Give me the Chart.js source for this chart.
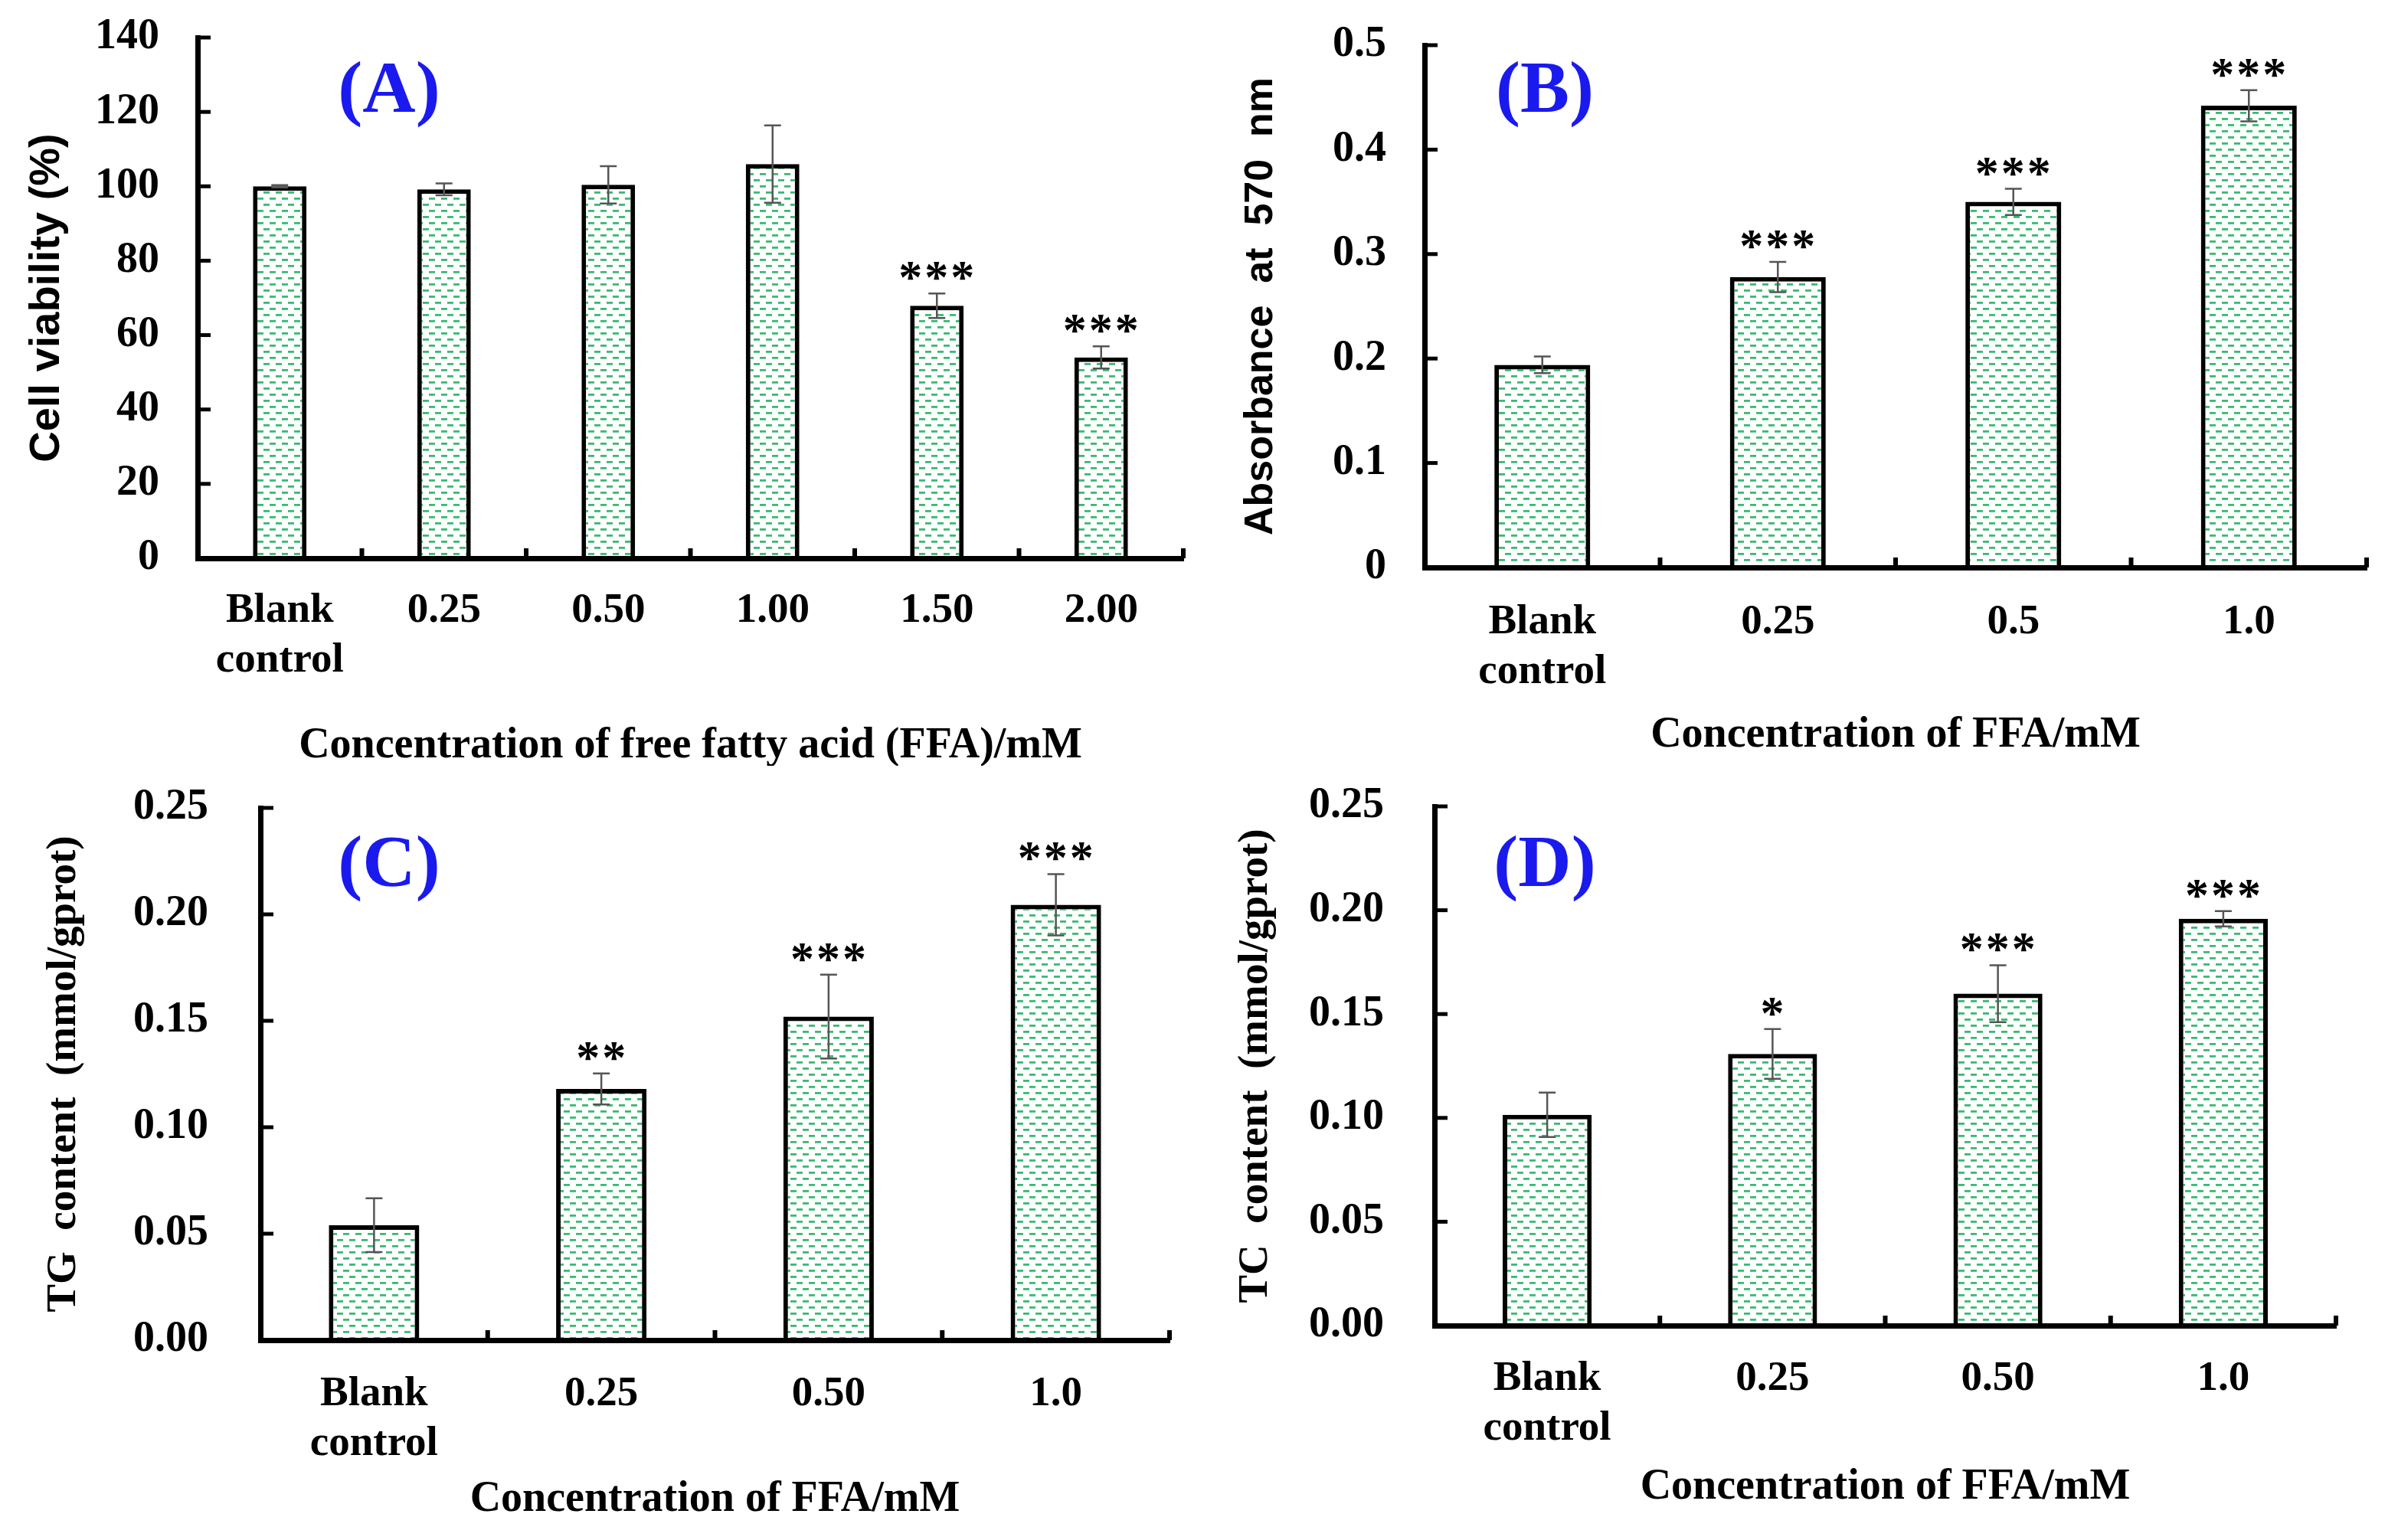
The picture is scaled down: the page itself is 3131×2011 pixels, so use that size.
<!DOCTYPE html>
<html>
<head>
<meta charset="utf-8">
<script src="https://cdn.jsdelivr.net/npm/chart.js@4.4.1/dist/chart.umd.min.js"></script>
<style>
html, body { margin: 0; padding: 0; background: #fff; }
body { width: 3131px; height: 2011px; position: relative; overflow: hidden; }
canvas { position: absolute; }
</style>
</head>
<body>
<canvas id="chartA" width="1565" height="1000" style="left:0;top:0;width:1565px;height:1000px"></canvas>
<canvas id="chartB" width="1566" height="1000" style="left:1565px;top:0;width:1566px;height:1000px"></canvas>
<canvas id="chartC" width="1565" height="1011" style="left:0;top:1000px;width:1565px;height:1011px"></canvas>
<canvas id="chartD" width="1566" height="1011" style="left:1565px;top:1000px;width:1566px;height:1011px"></canvas>
<script>
// (A) cell viability
const labelsA = [["Blank", "control"], "0.25", "0.50", "1.00", "1.50", "2.00"];
const viabilityA = [100, 99.2, 100.4, 106, 67.9, 54];
const viabilityErrA = [0.3, 1.6, 5, 10.4, 3.3, 3];
const starsA = ["", "", "", "", "***", "***"];
const yTicksA = [0, 20, 40, 60, 80, 100, 120, 140];
const yTickLabelsA = ["0", "20", "40", "60", "80", "100", "120", "140"];

// (B) absorbance
const labelsB = [["Blank", "control"], "0.25", "0.5", "1.0"];
const absorbanceB = [0.194, 0.278, 0.350, 0.442];
const absorbanceErrB = [0.008, 0.0145, 0.0125, 0.015];
const starsB = ["", "***", "***", "***"];
const yTicksB = [0, 0.1, 0.2, 0.3, 0.4, 0.5];
const yTickLabelsB = ["0", "0.1", "0.2", "0.3", "0.4", "0.5"];

// (C) TG content
const labelsC = [["Blank", "control"], "0.25", "0.50", "1.0"];
const tgC = [0.054, 0.118, 0.152, 0.2045];
const tgErrC = [0.0126, 0.0073, 0.0197, 0.0144];
const starsC = ["", "**", "***", "***"];

// (D) TC content
const labelsD = [["Blank", "control"], "0.25", "0.50", "1.0"];
const tcD = [0.1015, 0.1308, 0.1598, 0.1959];
const tcErrD = [0.0107, 0.012, 0.0137, 0.0037];
const starsD = ["", "*", "***", "***"];

const yTicksCD = [0, 0.05, 0.10, 0.15, 0.20, 0.25];
const yTickLabelsCD = ["0.00", "0.05", "0.10", "0.15", "0.20", "0.25"];

const SERIF = "'Liberation Serif', 'Times New Roman', serif";
const SANS = "'Liberation Sans', Arial, sans-serif";

// little green dashes on white, like the original hatch
function makePattern() {
    const c = document.createElement("canvas");
    c.width = 16;
    c.height = 16;
    const g = c.getContext("2d");
    g.fillStyle = "#fff";
    g.fillRect(0, 0, 16, 16);
    g.fillStyle = "rgba(35,178,100,0.9)";
    g.fillRect(0, 2, 8, 2.8);
    g.fillRect(8, 10, 8, 2.8);
    return g.createPattern(c, "repeat");
}
const dashFill = makePattern();

const decor = {
    id: "decor",
    afterDatasetsDraw(chart, args, opts) {
        const ctx = chart.ctx;
        const y = chart.scales.y;
        const bars = chart.getDatasetMeta(0).data;
        ctx.save();
        bars.forEach((bar, i) => {
            const v = opts.values[i];
            const e = opts.errors[i];
            const top = y.getPixelForValue(v + e);
            const bot = y.getPixelForValue(v - e);
            ctx.strokeStyle = "#555";
            ctx.lineWidth = 2.5;
            ctx.beginPath();
            ctx.moveTo(bar.x, top); ctx.lineTo(bar.x, bot);
            ctx.moveTo(bar.x - 11, top); ctx.lineTo(bar.x + 11, top);
            ctx.moveTo(bar.x - 11, bot); ctx.lineTo(bar.x + 11, bot);
            ctx.stroke();
            if (opts.stars[i]) {
                ctx.fillStyle = "#000";
                ctx.font = "bold 62px " + SERIF;
                ctx.letterSpacing = "3px";
                ctx.textAlign = "center";
                ctx.textBaseline = "alphabetic";
                ctx.fillText(opts.stars[i], bar.x + 1, top - 1);
            }
        });
        ctx.restore();
    },
    afterDraw(chart, args, opts) {
        const ctx = chart.ctx;
        const { left, right, bottom } = chart.chartArea;
        const x = chart.scales.x;
        const y = chart.scales.y;
        ctx.save();
        ctx.fillStyle = "#000";
        // inward ticks on the value axis
        y.ticks.forEach((t, i) => {
            const py = y.getPixelForTick(i);
            ctx.fillRect(left, py - 2.5, 17, 5);
        });
        // inward ticks between categories
        const n = x.ticks.length;
        for (let i = 1; i <= n; i++) {
            const px = i < n ? (x.getPixelForTick(i - 1) + x.getPixelForTick(i)) / 2 : right;
            ctx.fillRect(px - 3, bottom - 13, 6, 13);
        }
        // panel letter
        ctx.fillStyle = "#1a1aee";
        ctx.font = "bold 96px " + SERIF;
        ctx.textAlign = "center";
        ctx.textBaseline = "middle";
        ctx.fillText(opts.letter, opts.letterX, opts.letterY);
        ctx.restore();
    }
};

function makePanel(id, p) {
    return new Chart(document.getElementById(id), {
        type: "bar",
        data: {
            labels: p.labels,
            datasets: [{
                data: p.values,
                backgroundColor: dashFill,
                borderColor: "#000",
                borderWidth: 6,
                borderSkipped: "start",
                categoryPercentage: 1,
                barPercentage: p.barPct
            }]
        },
        options: {
            responsive: false,
            animation: false,
            devicePixelRatio: 1,
            layout: {
                autoPadding: false,
                padding: { left: 0, top: p.top, right: p.right, bottom: 0 }
            },
            plugins: {
                legend: { display: false },
                tooltip: { enabled: false },
                decor: {
                    values: p.values, errors: p.errors, stars: p.stars,
                    letter: p.letter, letterX: p.letterX, letterY: p.letterY
                }
            },
            scales: {
                x: {
                    type: "category",
                    offset: true,
                    grid: { drawOnChartArea: false, drawTicks: false },
                    border: { display: true, color: "#000", width: 7, z: 1 },
                    ticks: {
                        color: "#000",
                        font: { family: SERIF, size: 55, weight: "bold", lineHeight: 1.18 },
                        padding: p.xTickPad,
                        maxRotation: 0,
                        autoSkip: false
                    },
                    title: {
                        display: true,
                        text: p.xTitle,
                        color: "#000",
                        font: { family: SERIF, size: 56, weight: "bold", lineHeight: 0.9 },
                        padding: { top: 0, bottom: p.xTitlePad }
                    },
                    afterFit: s => {
                        s.height = p.xHeight;
                        s.paddingLeft = 0;
                        s.paddingRight = 0;
                    }
                },
                y: {
                    min: p.yTicks[0],
                    max: p.yTicks[p.yTicks.length - 1],
                    afterBuildTicks: s => { s.ticks = p.yTicks.map(v => ({ value: v })); },
                    grid: { drawOnChartArea: false, drawTicks: false },
                    border: { display: true, color: "#000", width: 7, z: 1 },
                    ticks: {
                        color: "#000",
                        font: { family: SERIF, size: 56, weight: "bold" },
                        padding: p.yTickPad,
                        callback: (v, i) => p.yTickLabels[i]
                    },
                    title: {
                        display: true,
                        text: p.yTitle,
                        color: "#000",
                        font: { family: p.yTitleFont, size: p.yTitleSize, weight: "bold", lineHeight: 1 },
                        padding: { top: p.yTitlePad, bottom: 0 }
                    },
                    afterFit: s => {
                        s.width = p.yWidth;
                        s.paddingTop = 0;
                        s.paddingBottom = 0;
                    }
                }
            }
        },
        plugins: [decor]
    });
}

makePanel("chartA", {
    labels: labelsA, values: viabilityA, errors: viabilityErrA, stars: starsA,
    yTicks: yTicksA, yTickLabels: yTickLabelsA,
    yTitle: "Cell viability (%)", yTitleFont: SANS, yTitleSize: 56, yTitlePad: 34,
    xTitle: "Concentration of free fatty acid (FFA)/mM", xTitlePad: 0,
    barPct: 0.326, top: 49, right: 20, yWidth: 258, xHeight: 271,
    yTickPad: 50, xTickPad: 36,
    letter: "(A)", letterX: 508, letterY: 121
});

makePanel("chartB", {
    labels: labelsB, values: absorbanceB, errors: absorbanceErrB, stars: starsB,
    yTicks: yTicksB, yTickLabels: yTickLabelsB,
    yTitle: "Absorbance  at  570  nm", yTitleFont: SANS, yTitleSize: 52, yTitlePad: 56,
    xTitle: "Concentration of FFA/mM", xTitlePad: 14,
    barPct: 0.407, top: 59, right: 41, yWidth: 295, xHeight: 259,
    yTickPad: 50, xTickPad: 39,
    letter: "(B)", letterX: 452, letterY: 121
});

makePanel("chartC", {
    labels: labelsC, values: tgC, errors: tgErrC, stars: starsC,
    yTicks: yTicksCD, yTickLabels: yTickLabelsCD,
    yTitle: "TG  content  (mmol/gprot)", yTitleFont: SERIF, yTitleSize: 55, yTitlePad: 56,
    xTitle: "Concentration of FFA/mM", xTitlePad: 27,
    barPct: 0.398, top: 55, right: 38, yWidth: 340, xHeight: 261,
    yTickPad: 68, xTickPad: 38,
    letter: "(C)", letterX: 508, letterY: 132
});

makePanel("chartD", {
    labels: labelsD, values: tcD, errors: tcErrD, stars: starsD,
    yTicks: yTicksCD, yTickLabels: yTickLabelsCD,
    yTitle: "TC  content  (mmol/gprot)", yTitleFont: SERIF, yTitleSize: 55, yTitlePad: 47,
    xTitle: "Concentration of FFA/mM", xTitlePad: 43,
    barPct: 0.395, top: 53, right: 81, yWidth: 308, xHeight: 280,
    yTickPad: 66, xTickPad: 37,
    letter: "(D)", letterX: 452, letterY: 132
});
</script>
</body>
</html>
